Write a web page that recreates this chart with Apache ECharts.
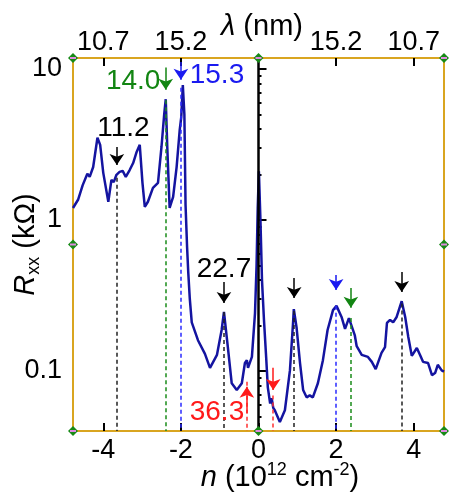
<!DOCTYPE html>
<html>
<head>
<meta charset="utf-8">
<script src="https://cdn.jsdelivr.net/npm/echarts@6/dist/echarts.min.js"></script>
<style>
  html, body { margin: 0; padding: 0; background: #fff; }
  #chart { width: 449px; height: 492px; }
</style>
</head>
<body>
<div id="chart"></div>
<script>
// curve: carrier density n (1e12 cm^-2) vs Rxx (kOhm)
const curveN = [-4.78,-4.65,-4.53,-4.41,-4.35,-4.26,-4.15,-4.08,-4.00,-3.87,-3.79,-3.73,-3.66,-3.58,-3.50,-3.42,-3.32,-3.23,-3.14,-3.06,-2.99,-2.93,-2.85,-2.72,-2.59,-2.50,-2.43,-2.39,-2.35,-2.29,-2.20,-2.11,-2.03,-1.99,-1.95,-1.91,-1.88,-1.84,-1.81,-1.77,-1.72,-1.56,-1.38,-1.25,-1.07,-0.95,-0.89,-0.79,-0.69,-0.56,-0.43,-0.35,-0.30,-0.27,-0.17,-0.09,-0.05,-0.02,0.01,0.05,0.09,0.14,0.20,0.24,0.30,0.34,0.38,0.42,0.55,0.68,0.81,0.89,0.91,0.98,1.07,1.15,1.24,1.32,1.40,1.53,1.66,1.78,1.92,2.01,2.14,2.23,2.33,2.38,2.48,2.53,2.66,2.82,2.92,3.02,3.17,3.26,3.31,3.39,3.47,3.56,3.69,3.78,3.86,3.95,4.08,4.16,4.24,4.37,4.47,4.55,4.62,4.72,4.78];
const curveR = [1.20,1.36,1.70,2.02,1.93,2.24,3.50,3.14,2.05,1.32,1.84,1.78,1.99,2.08,2.11,1.93,2.14,2.38,2.82,3.14,1.76,1.22,1.32,1.63,1.76,3.04,5.0,6.3,3.0,1.2,1.42,2.24,3.95,4.8,7.8,5.0,1.26,0.66,0.45,0.30,0.21,0.16,0.13,0.105,0.128,0.187,0.246,0.144,0.083,0.075,0.083,0.113,0.118,0.105,0.124,0.242,0.5,1.2,2.1,1.0,0.40,0.22,0.12,0.078,0.061,0.066,0.057,0.055,0.046,0.055,0.101,0.208,0.257,0.195,0.113,0.075,0.067,0.069,0.067,0.083,0.118,0.187,0.253,0.27,0.228,0.19,0.224,0.228,0.173,0.146,0.128,0.124,0.115,0.103,0.132,0.144,0.208,0.218,0.21,0.228,0.29,0.228,0.168,0.126,0.142,0.128,0.115,0.113,0.094,0.097,0.11,0.101,0.099];

// axis ranges and ticks
const nMin = -4.78, nMax = 4.78;
const rMin = 0.0401, rMax = 11.8;
const bottomTicks = [-4, -2, 0, 2, 4];
const topTickN = [-4, -2, 2, 4];
const topTickLabels = ['10.7', '15.2', '15.2', '10.7'];
const leftTicks = [0.1, 1, 10];
const leftMinor = [0.05,0.06,0.07,0.08,0.09,0.2,0.3,0.4,0.5,0.6,0.7,0.8,0.9,2,3,4,5,6,7,8,9];

// marked densities: dashed line top, arrow start/end (Rxx), colour group
const markN     = [-3.65, -2.39, -2.00, -0.89, -0.30, 0.38, 0.92, 2.00, 2.38, 3.69];
const markGroup = ['k', 'g', 'b', 'k', 'r', 'r', 'k', 'b', 'g', 'k'];
const dashTop   = [1.9, 6.2, 7.5, 0.246, 0.085, 0.069, 0.25, 0.27, 0.224, 0.28];
const arrowFrom = [3.04, 10.2, 11.1, 0.389, 0.0527, 0.105, 0.413, 0.432, 0.354, 0.452];
const arrowTo   = [2.31, 7.26, 8.48, 0.282, 0.0786, 0.075, 0.304, 0.344, 0.262, 0.333];

// wavelength labels
const labelText  = ['11.2', '14.0', '15.3', '22.7', '36.3'];
const labelGroup = ['k', 'g', 'b', 'k', 'r'];
const labelN     = [-3.48, -3.23, -1.07, -0.89, -1.07];
const labelR     = [4.07, 8.33, 9.12, 0.474, 0.0535];

const palette = { k: '#000000', g: '#128512', b: '#1a1af0', r: '#ff1a1a' };
const dashPalette = { k: '#222222', g: '#1a8c1a', b: '#2a2aff', r: '#ff3030' };
const FONT = 'Liberation Sans, Arial, sans-serif';

const chart = echarts.init(document.getElementById('chart'));

const curveData = curveN.map((n, i) => [n, curveR[i]]);

const dashLines = markN.map((n, i) => [
    { coord: [n, dashTop[i]], lineStyle: { color: dashPalette[markGroup[i]], type: [4, 3], width: 1.5 } },
    { coord: [n, rMin] }
]);
dashLines.push([
    { coord: [0, rMax], lineStyle: { color: '#000', type: 'solid', width: 2.5 } },
    { coord: [0, rMin] }
]);

const arrows = markN.map((n, i) => [
    { coord: [n, arrowFrom[i]], lineStyle: { color: palette[markGroup[i]], width: 1.5, type: 'solid' } },
    { coord: [n, arrowTo[i]] }
]);

const labels = labelText.map((t, i) => ({
    value: [labelN[i], labelR[i]],
    label: { formatter: t, color: palette[labelGroup[i]] }
}));

// frame handles (corners and mid-points)
const rMid = Math.sqrt(rMin * rMax);
const handles = [[nMin, rMax], [0, rMax], [nMax, rMax], [nMin, rMid], [nMax, rMid], [nMin, rMin], [0, rMin], [nMax, rMin]];

const tickStyle = { color: '#000', width: 2 };

const option = {
    animation: false,
    backgroundColor: '#fff',
    grid: {
        left: 73, right: 5, top: 58, bottom: 61,
        show: true, borderColor: '#d9a520', borderWidth: 2,
        outerBoundsMode: 'none'
    },
    xAxis: [
        {
            type: 'value', min: nMin, max: nMax, position: 'bottom',
            name: '{i|n} (10{sup|12} cm{sup|-2})',
            nameLocation: 'middle', nameGap: 30, nameMoveOverlap: false,
            nameTextStyle: {
                fontFamily: FONT, fontSize: 29, color: '#000', lineHeight: 34, padding: [0, 0, 0, 43],
                rich: {
                    i: { fontFamily: FONT, fontSize: 29, fontStyle: 'italic', lineHeight: 34 },
                    sup: { fontFamily: FONT, fontSize: 18, verticalAlign: 'top', lineHeight: 20 }
                }
            },
            axisLine: { show: false },
            axisTick: { show: true, inside: true, length: 8, lineStyle: tickStyle, customValues: bottomTicks },
            axisLabel: { customValues: bottomTicks, fontFamily: FONT, fontSize: 27, color: '#000', margin: 6 },
            splitLine: { show: false }
        },
        {
            type: 'value', min: nMin, max: nMax, position: 'top',
            name: '{i|λ} (nm)',
            nameLocation: 'middle', nameGap: 14, nameMoveOverlap: false,
            nameTextStyle: {
                fontFamily: FONT, fontSize: 29, color: '#000', lineHeight: 34, padding: [0, 0, 0, 7],
                rich: { i: { fontFamily: FONT, fontSize: 29, fontStyle: 'italic', lineHeight: 34 } }
            },
            axisLine: { show: false },
            axisTick: { show: true, inside: true, length: 8, lineStyle: tickStyle, customValues: topTickN },
            axisLabel: {
                customValues: topTickN, fontFamily: FONT, fontSize: 27, color: '#000', margin: 2,
                formatter: v => topTickLabels[topTickN.indexOf(v)]
            },
            splitLine: { show: false }
        }
    ],
    yAxis: [
        {
            type: 'log', logBase: 10, min: rMin, max: rMax, position: 'left',
            name: '{i|R}{sub|xx} (kΩ)',
            nameLocation: 'middle', nameGap: 30, nameRotate: 90, nameMoveOverlap: false,
            nameTextStyle: {
                fontFamily: FONT, fontSize: 29, color: '#000', lineHeight: 34,
                rich: {
                    i: { fontFamily: FONT, fontSize: 29, fontStyle: 'italic', lineHeight: 34 },
                    sub: { fontFamily: FONT, fontSize: 18, verticalAlign: 'bottom', lineHeight: 20 }
                }
            },
            axisLine: { show: false },
            axisTick: { show: true, inside: true, length: 8, lineStyle: tickStyle, customValues: leftTicks },
            axisLabel: {
                customValues: leftTicks, fontFamily: FONT, fontSize: 27, color: '#000', margin: 11,
                formatter: v => String(v)
            },
            splitLine: { show: false }
        },
        {
            type: 'log', logBase: 10, min: rMin, max: rMax, position: 'left',
            axisLine: { show: false },
            axisTick: { show: true, inside: true, length: 3, lineStyle: tickStyle, customValues: leftMinor },
            axisLabel: { show: false },
            splitLine: { show: false }
        }
    ],
    series: [
        {
            name: 'dash', type: 'line', data: [], silent: true,
            markLine: { silent: true, symbol: ['none', 'none'], label: { show: false }, data: dashLines }
        },
        {
            name: 'Rxx', type: 'line', data: curveData, showSymbol: false, symbol: 'none',
            lineStyle: { color: '#1414a0', width: 2.5 }, z: 3
        },
        {
            name: 'arrows', type: 'line', data: [], silent: true,
            markLine: { silent: true, symbol: ['none', 'arrow'], symbolSize: 11, label: { show: false }, data: arrows }
        },
        {
            name: 'labels', type: 'scatter', data: labels, symbolSize: 1, silent: true,
            itemStyle: { color: 'transparent', opacity: 1 },
            label: { show: true, position: 'inside', fontFamily: FONT, fontSize: 28, opacity: 1, textBorderWidth: 0 }, z: 5
        },
        {
            name: 'handles', type: 'scatter', data: handles, symbol: 'diamond', symbolSize: 10,
            clip: false, silent: true, itemStyle: { color: '#178a17', opacity: 1 }, z: 6
        },
        {
            name: 'handleMark', type: 'scatter', data: handles, symbol: 'rect', symbolSize: [6, 2],
            clip: false, silent: true, itemStyle: { color: '#e08ae0', opacity: 1 }, z: 7
        }
    ]
};

chart.setOption(option);
</script>
</body>
</html>
